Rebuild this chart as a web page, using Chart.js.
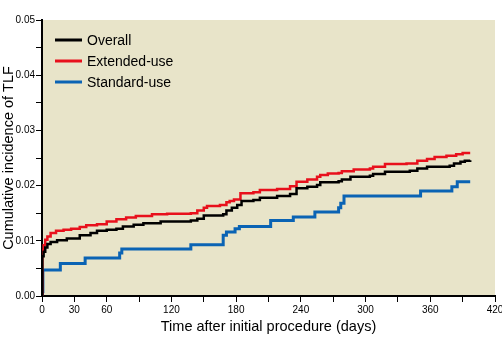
<!DOCTYPE html>
<html>
<head>
<meta charset="utf-8">
<script src="https://cdn.jsdelivr.net/npm/chart.js@4/dist/chart.umd.min.js"></script>
<style>
  html, body { margin: 0; padding: 0; background: #fff; }
  canvas { display: block; }
</style>
</head>
<body>
<canvas id="chart" width="502" height="341"></canvas>
<script>
// Kaplan-Meier style cumulative incidence, one step point per event (day, new value)
const overallDays = [0, 0.3, 1.5, 3, 5, 8, 14, 23, 35, 45, 51, 60, 69, 75, 85, 94, 110, 138, 144, 150, 168, 171, 176, 181, 185, 196, 202, 218, 230, 236, 246, 255, 258, 275, 278, 286, 304, 307, 318, 341, 348, 357, 378, 382, 388, 392, 397];
const overallTlf = [0, 0.0072, 0.0080, 0.0088, 0.0094, 0.0098, 0.0101, 0.0104, 0.0110, 0.0114, 0.0118, 0.0120, 0.0122, 0.0126, 0.0129, 0.0132, 0.0135, 0.0137, 0.0140, 0.0146, 0.0148, 0.0155, 0.0160, 0.0165, 0.0172, 0.0174, 0.0178, 0.0181, 0.0185, 0.0195, 0.0198, 0.0201, 0.0206, 0.0208, 0.0211, 0.0216, 0.0218, 0.0221, 0.0225, 0.0227, 0.0231, 0.0234, 0.0236, 0.0240, 0.0243, 0.0245, 0.0246];

const extendedDays = [0, 0.3, 1.5, 3, 5, 8, 13, 20, 27, 35, 41, 51, 60, 69, 78, 87, 102, 116, 138, 144, 150, 153, 165, 171, 174, 178, 184, 196, 202, 218, 230, 236, 246, 255, 258, 265, 275, 278, 289, 304, 307, 318, 338, 348, 357, 364, 375, 384, 390, 397];
const extendedTlf = [0, 0.0082, 0.0092, 0.0102, 0.0108, 0.0114, 0.0118, 0.0120, 0.0122, 0.0125, 0.0128, 0.0130, 0.0135, 0.0139, 0.0142, 0.0145, 0.0148, 0.0149, 0.0150, 0.0155, 0.0160, 0.0163, 0.0165, 0.0170, 0.0172, 0.0175, 0.0186, 0.0188, 0.0192, 0.0194, 0.0199, 0.0207, 0.0211, 0.0216, 0.0219, 0.0222, 0.0223, 0.0226, 0.0229, 0.0231, 0.0234, 0.0239, 0.0240, 0.0245, 0.0248, 0.0252, 0.0254, 0.0257, 0.0259, 0.0259];

const standardDays = [0, 0.2, 0.8, 17, 40, 72, 74, 138, 168, 171, 179, 183, 212, 233, 253, 275, 277, 280, 351, 380, 385, 397];
const standardTlf = [0, 0.0008, 0.0047, 0.0059, 0.0069, 0.0078, 0.0085, 0.0093, 0.0110, 0.0116, 0.0122, 0.0126, 0.0137, 0.0143, 0.0152, 0.0160, 0.0168, 0.0181, 0.0190, 0.0198, 0.0207, 0.0207];

const seriesLabels = ['Overall', 'Extended-use', 'Standard-use'];
const xLabelledDays = [0, 30, 60, 120, 180, 240, 300, 360, 420];

const tickFont = { family: "'Liberation Sans', Arial, sans-serif", size: 10 };
const titleFont = { family: "'Liberation Sans', Arial, sans-serif", size: 14.5 };

function toPoints(days, vals) {
  return days.map((d, i) => ({ x: d, y: vals[i] }));
}

// beige panel behind the curves
const plotBackground = {
  id: 'plotBackground',
  beforeDraw(chart) {
    const { ctx, chartArea: a } = chart;
    ctx.save();
    ctx.fillStyle = '#e8e4c9';
    ctx.fillRect(a.left, a.top, a.right - a.left, a.bottom - a.top);
    ctx.restore();
  }
};

// legend sits inside the panel, top left
const insetLegend = {
  id: 'insetLegend',
  afterDatasetsDraw(chart) {
    const { ctx, chartArea: a } = chart;
    ctx.save();
    ctx.font = '14px ' + titleFont.family;
    ctx.textBaseline = 'middle';
    chart.data.datasets.forEach((ds, i) => {
      const y = a.top + 20 + i * 21;
      ctx.strokeStyle = ds.borderColor;
      ctx.lineWidth = 3;
      ctx.beginPath();
      ctx.moveTo(a.left + 13, y);
      ctx.lineTo(a.left + 40, y);
      ctx.stroke();
      ctx.fillStyle = '#000';
      ctx.fillText(ds.label, a.left + 45, y + 1);
    });
    ctx.restore();
  }
};

const chartConfig = {
  type: 'line',
  data: {
    datasets: [
      {
        label: seriesLabels[0],
        data: toPoints(overallDays, overallTlf),
        borderColor: '#000000',
        borderWidth: 2.5
      },
      {
        label: seriesLabels[1],
        data: toPoints(extendedDays, extendedTlf),
        borderColor: '#e8101c',
        borderWidth: 2.5
      },
      {
        label: seriesLabels[2],
        data: toPoints(standardDays, standardTlf),
        borderColor: '#0a63b4',
        borderWidth: 3
      }
    ]
  },
  options: {
    responsive: false,
    animation: false,
    layout: { padding: { top: 20, right: 7, left: 0, bottom: 0 } },
    plugins: { legend: { display: false }, tooltip: { enabled: false } },
    datasets: { line: { stepped: true, pointRadius: 0, fill: false } },
    scales: {
      x: {
        type: 'linear',
        min: 0,
        max: 420,
        afterFit: s => { s.height = 45; s.paddingLeft = 0; s.paddingRight = 7; },
        ticks: {
          stepSize: 30,
          autoSkip: false,
          maxRotation: 0,
          color: '#000',
          font: tickFont,
          padding: 2,
          callback: v => xLabelledDays.includes(v) ? String(v) : ''
        },
        grid: { drawOnChartArea: false, drawTicks: true, tickLength: 6, color: '#000', lineWidth: 1 },
        border: { display: true, color: '#000', width: 2 },
        title: {
          display: true,
          text: 'Time after initial procedure (days)',
          color: '#000',
          font: titleFont,
          padding: { top: 0, bottom: 5 }
        }
      },
      y: {
        type: 'linear',
        min: 0,
        max: 0.05,
        afterFit: s => { s.width = 42; s.paddingTop = 0; s.paddingBottom = 0; },
        ticks: {
          stepSize: 0.005,
          autoSkip: false,
          color: '#000',
          font: tickFont,
          padding: 1,
          callback: v => Math.round(v * 1000) % 10 === 0 ? v.toFixed(2) : ''
        },
        grid: { drawOnChartArea: false, drawTicks: true, tickLength: 6, color: '#000', lineWidth: 1 },
        border: { display: true, color: '#000', width: 2 },
        title: {
          display: true,
          text: 'Cumulative incidence of TLF',
          color: '#000',
          font: titleFont,
          padding: { top: 0, bottom: 0 }
        }
      }
    }
  },
  plugins: [plotBackground, insetLegend]
};

const chart = new Chart(document.getElementById('chart'), chartConfig);
</script>
</body>
</html>
